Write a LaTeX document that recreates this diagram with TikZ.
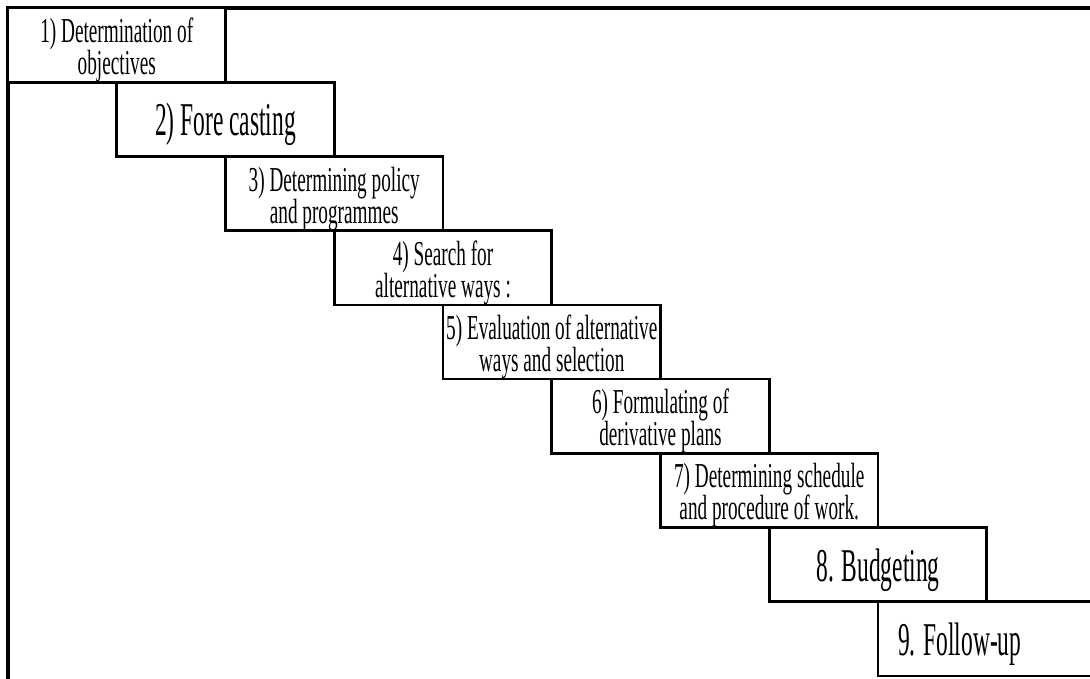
\documentclass[tikz,border=0pt]{standalone}
\usepackage{fontspec}
\setmainfont{Liberation Serif}[FakeStretch=0.55]
\newfontfamily\bigstepfont{Liberation Serif}[FakeStretch=0.5]

% Texts of the steps, with a strut that sets where the first baseline sits
\newcommand{\steplines}[2]{\rule{0pt}{34.6pt}#1\\#2}
\newcommand{\stepline}[1]{\rule{0pt}{43.2pt}#1}
\newcommand{\stepfont}{\fontsize{35}{32}\selectfont\lineskiplimit -100pt\relax}

\tikzstyle{stepbox} = [rectangle, draw, fill=white, line width=2.6pt, anchor=north west, outer sep=0pt,
minimum width=217.5pt, minimum height=74.2pt, inner sep=0pt, align=center, font=\stepfont]
\tikzstyle{bigstep} = [stepbox, font=\bigstepfont\fontsize{47}{50}\selectfont]
\tikzstyle{frame} = [draw, line width=3.2pt]

\begin{document}
\begin{tikzpicture}[x=1pt, y=1pt]

%\draw[help lines,step=50] (0,0) grid (1090,-678);
\useasboundingbox (0,0) rectangle (1090,-678);
\clip (0,0) rectangle (1090,-678);
\fill[white] (0,0) rectangle (1090,-678);

	%Corner and open ends of the outer frame
	\coordinate (Corner) at (8,-8);
	\coordinate (FrameBottom) at (8,-690);
	\coordinate (FrameRight) at (1100,-8);
	\path[frame] (FrameBottom) -- (Corner) -- (FrameRight);

	%Steps of planning, each one hanging from the middle of the one above
	\node[stepbox](Objectives) at (Corner) {\steplines{1) Determination of}{objectives}};
	\node[bigstep](Forecasting) at (Objectives.south) {\stepline{2) Fore casting}};
	\node[stepbox](Policy) at (Forecasting.south) {\steplines{3) Determining policy}{and programmes}};
	\node[stepbox](Search) at (Policy.south) {\steplines{4) Search for}{alternative ways :}};
	\node[stepbox](Evaluation) at (Search.south) {\steplines{5) Evaluation of alternative}{ways and selection}};
	\node[stepbox](Derivative) at (Evaluation.south) {\steplines{6) Formulating of}{derivative plans}};
	\node[stepbox](Schedule) at (Derivative.south) {\steplines{7) Determining schedule}{and procedure of work.}};
	\node[bigstep](Budgeting) at (Schedule.south) {\stepline{8. Budgeting}};
	\node[bigstep](Followup) at (Budgeting.south) {\hspace*{-54pt}\stepline{9. Follow-up}};

\end{tikzpicture}
\end{document}
